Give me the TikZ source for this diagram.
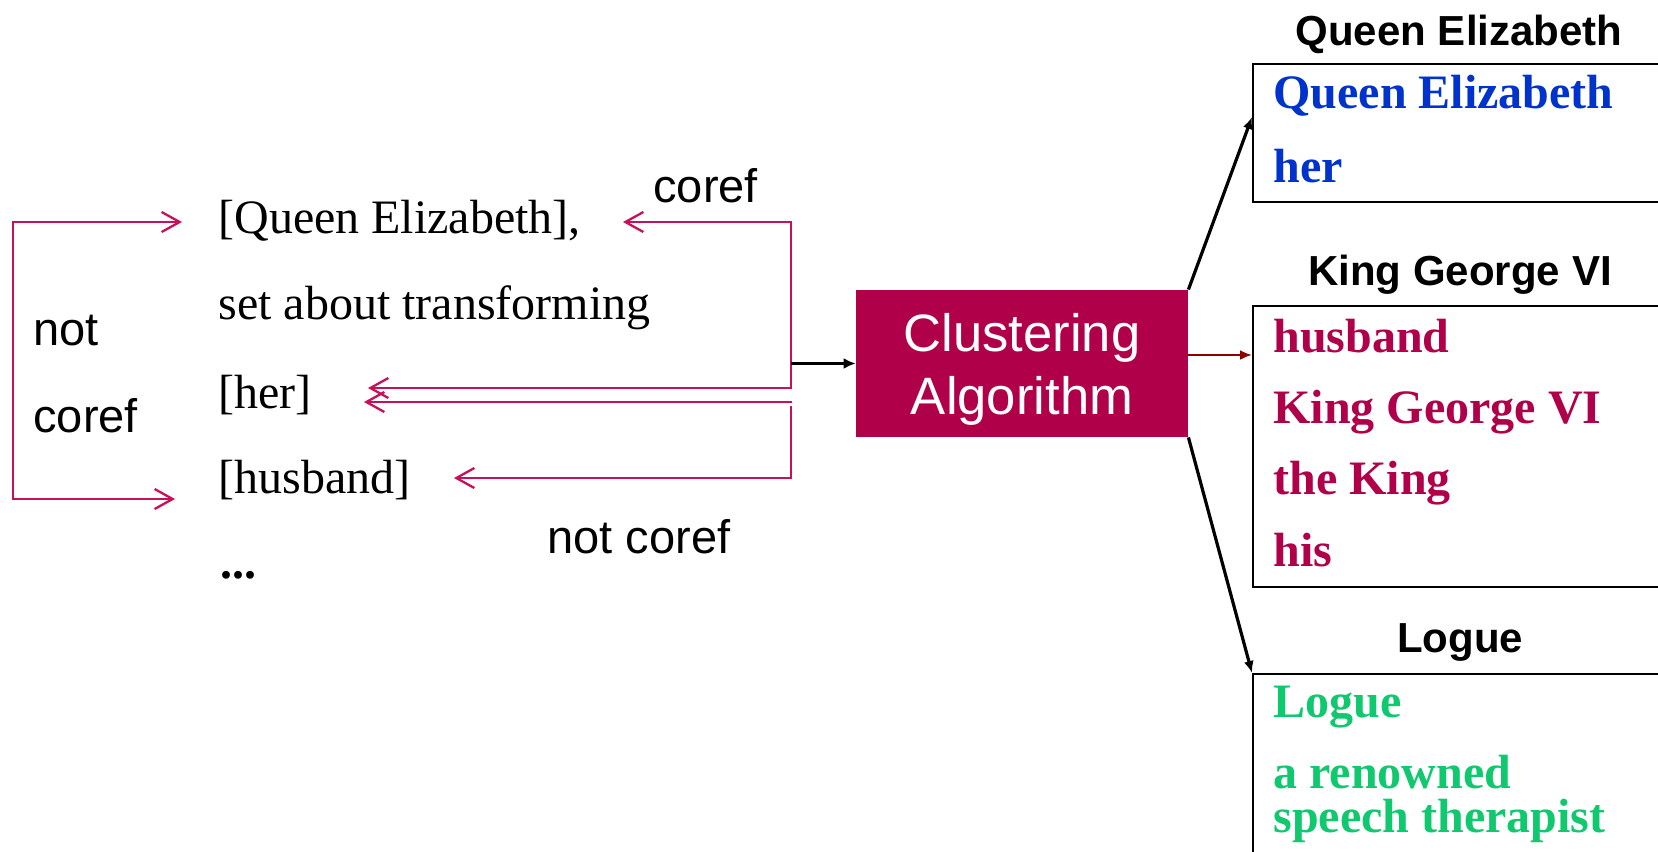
\documentclass[tikz,border=0pt]{standalone}
\usepackage{fontspec}
\setmainfont{Liberation Serif}
\setsansfont{Liberation Sans}
\usetikzlibrary{arrows.meta}

\definecolor{linkred}{RGB}{200,16,90}
\definecolor{algofill}{RGB}{176,0,74}
\definecolor{kingred}{RGB}{176,0,74}
\definecolor{queenblue}{RGB}{0,51,204}
\definecolor{loguegreen}{RGB}{16,200,110}
\definecolor{arrowred}{RGB}{140,0,0}

\tikzset{
  word/.style={anchor=base west, inner sep=0pt, font=\fontsize{24}{28}\selectfont},
  tag/.style={anchor=base west, inner sep=0pt, font=\sffamily\fontsize{23.5}{28}\selectfont},
  head/.style={anchor=base, inner sep=0pt, font=\sffamily\bfseries\fontsize{21}{25}\selectfont},
  item/.style={anchor=base west, inner sep=0pt, font=\bfseries\fontsize{24}{22}\selectfont, align=left},
  algo/.style={fill=algofill, minimum width=166pt, minimum height=73.5pt, inner sep=0pt,
    text=white, align=center, font=\sffamily\fontsize{26.3}{31.5}\selectfont},
  group/.style={draw=black, line width=1.2pt, anchor=north west, minimum width=250pt, inner sep=0pt},
  cref/.style={draw=linkred, line width=1.15pt, >={Straight Barb[length=9pt,width=10pt]}},
  feed/.style={line width=1.6pt, -{Latex[length=6pt,width=5pt]}},
}

\begin{document}
\begin{tikzpicture}[x=0.5pt,y=-0.5pt]
\useasboundingbox (0,0) rectangle (1658,851);
\clip (0,0) rectangle (1658,851);

% sentence with mentions
\node[word] (qe)   at (218,233) {[Queen Elizabeth],};
\node[word] (set)  at (218,319) {set about transforming};
\node[word] (her)  at (218,408) {[her]};
\node[word] (hus)  at (218,493) {[husband]};
\node[word, font=\bfseries\fontsize{24}{28}\selectfont] (dots) at (220,578) {...};

% pair labels
\node[tag] (lcoref)  at (653,202) {coref};
\node[tag] (lnotco)  at (547,553) {not coref};
\node[tag] (lnot)    at (33,345)  {not};
\node[tag] (lcoref2) at (33,432)  {coref};

% outer "not coref" bracket on the left
\coordinate (qeL)  at (182,222);
\coordinate (brT)  at (13,222);
\coordinate (brB)  at (13,499);
\coordinate (husL) at (175,499);
\draw[cref,<->] (qeL) -- (brT) -- (brB) -- (husL);

% pairwise links on the right of the sentence
\coordinate (qeR)   at (623,222);
\coordinate (c1)    at (791,222);
\coordinate (c2)    at (791,388);
\coordinate (herA)  at (368,388);
\draw[cref,<->] (qeR) -- (c1) -- (c2) -- (herA);

\coordinate (herB)  at (364,402);
\coordinate (c3)    at (792,402);
\draw[cref,<-] (herB) -- (c3);

\coordinate (c4)    at (791,406);
\coordinate (c5)    at (791,478);
\coordinate (husR)  at (454,478);
\draw[cref,->] (c4) -- (c5) -- (husR);

% clustering step
\node[algo] (clus) at (1022,363.5) {\rule{0pt}{25pt}Clustering\\Algorithm};
\coordinate (fork) at (791,363.5);
\draw[line width=1.6pt, -{Latex[length=6pt,width=5.5pt]}] (fork) -- (clus.west);

% resulting clusters
\node[group, minimum height=69pt]    (qbox) at (1252,63)  {};
\node[group, minimum height=140.5pt] (kbox) at (1252,305) {};
\node[group, minimum height=150pt]   (lbox) at (1252,673) {};

\node[head] (qhead) at (1459,45)  {Queen Elizabeth};
\node[head] (khead) at (1460,285) {King George VI};
\node[head] (lhead) at (1460,652) {Logue};

\node[item, text=queenblue] (q1) at (1273,108) {Queen Elizabeth};
\node[item, text=queenblue] (q2) at (1273,182) {her};

\node[item, text=kingred] (k1) at (1273,352) {husband};
\node[item, text=kingred] (k2) at (1273,423) {King George VI};
\node[item, text=kingred] (k3) at (1273,494) {the King};
\node[item, text=kingred] (k4) at (1273,566) {his};

\node[item, text=loguegreen] (l1) at (1273,717) {Logue};
\node[item, text=loguegreen] (l2) at (1273,832) {a renowned\\speech therapist};

\coordinate (qIn) at (1252,117);
\coordinate (kIn) at (1252,355);
\draw[feed] (clus.north east) -- (qIn);
\draw[feed, draw=arrowred, line width=1.3pt] (clus.east |- kIn) -- (kIn);
\draw[feed] (clus.south east) -- (lbox.north west);
\end{tikzpicture}
\end{document}
